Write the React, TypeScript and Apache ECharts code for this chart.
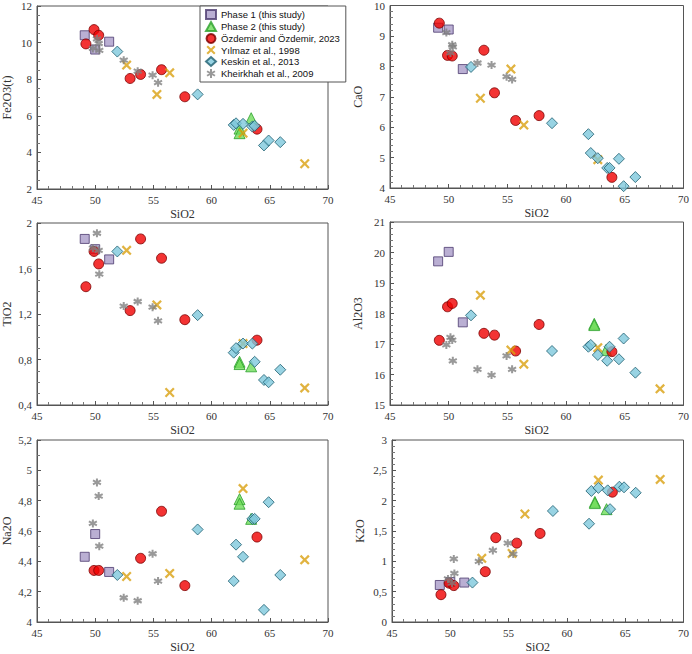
import React, { useEffect, useRef } from "react";
import * as echarts from "echarts";

// ---------- Data ----------
// Phase 1 (this study)
const PHASE1_SIO2 = [49.1, 50.0, 51.2];
const PHASE1_FE2O3 = [10.4, 9.62, 10.05];
const PHASE1_CAO = [9.27, 9.21, 7.91];
const PHASE1_TIO2 = [1.86, 1.77, 1.68];
const PHASE1_AL2O3 = [19.71, 20.02, 17.71];
const PHASE1_NA2O = [4.43, 4.58, 4.33];
const PHASE1_K2O = [0.61, 0.66, 0.65];

// Phase 2 (this study)
const PHASE2_SIO2 = [62.4, 62.4, 63.4];
const PHASE2_FE2O3 = [5.3, 5.05, 5.87];
const PHASE2_CAO = [null, null, null];
const PHASE2_TIO2 = [0.78, 0.76, 0.74];
const PHASE2_AL2O3 = [17.66, 17.62, 16.8];
const PHASE2_NA2O = [4.81, 4.78, 4.68];
const PHASE2_K2O = [1.98, 1.96, 1.86];

// Özdemir and Özdemir, 2023
const OZD_SIO2 = [49.2, 49.9, 50.3, 53.0, 53.9, 55.7, 57.7, 63.9];
const OZD_FE2O3 = [9.93, 10.71, 10.4, 8.04, 8.26, 8.52, 7.04, 5.27];
const OZD_CAO = [9.42, 8.36, 8.34, 8.53, 7.13, 6.22, 6.38, 4.35];
const OZD_TIO2 = [1.44, 1.75, 1.64, 1.23, 1.86, 1.69, 1.15, 0.97];
const OZD_AL2O3 = [17.12, 18.22, 18.33, 17.35, 17.29, 16.77, 17.64, 16.75];
const OZD_NA2O = [null, 4.34, 4.34, null, 4.42, 4.73, 4.24, 4.56];
const OZD_K2O = [0.45, 0.64, 0.6, 0.83, 1.39, 1.3, 1.46, 2.14];

// Yılmaz et al., 1998
const YIL_SIO2 = [52.7, 55.3, 56.4, 62.7, 68.0];
const YIL_FE2O3 = [8.77, 7.17, 8.35, 5.05, 3.38];
const YIL_CAO = [6.95, 7.91, 6.07, 4.93, null];
const YIL_TIO2 = [1.76, 1.28, 0.51, 0.94, 0.55];
const YIL_AL2O3 = [18.6, 16.8, 16.34, 16.88, 15.53];
const YIL_NA2O = [4.3, null, 4.32, 4.88, 4.41];
const YIL_K2O = [1.05, 1.13, 1.78, 2.34, 2.35];

// Keskin et al., 2013
const KES_SIO2 = [51.9, 58.8, 61.9, 62.1, 62.7, 63.5, 63.7, 64.5, 64.9, 65.9];
const KES_FE2O3 = [9.51, 7.17, 5.5, 5.59, 5.56, 5.41, 5.45, 4.38, 4.65, 4.56];
const KES_CAO = [7.98, 6.13, 5.77, 5.15, 4.98, 4.66, 4.66, 4.96, 4.06, 4.36];
const KES_TIO2 = [1.75, 1.19, 0.86, 0.9, 0.94, 0.94, 0.78, 0.62, 0.6, 0.71];
const KES_AL2O3 = [17.94, 16.77, 16.91, 16.97, 16.64, 16.45, 16.91, 16.5, 17.18, 16.06];
const KES_NA2O = [4.31, 4.61, 4.27, 4.51, 4.43, 4.68, 4.68, 4.08, 4.79, 4.31];
const KES_K2O = [0.65, 1.83, 1.62, 2.16, 2.21, 2.17, 1.86, 2.23, 2.22, 2.13];

// Kheirkhah et al., 2009
const KHE_SIO2 = [49.8, 50.15, 50.3, 50.35, 52.45, 53.65, 54.93, 55.4];
const KHE_FE2O3 = [9.68, 10.2, 9.95, 9.58, 9.04, 8.44, 8.22, 7.81];
const KHE_CAO = [9.11, 8.44, 8.71, 8.64, 8.11, 8.04, 7.66, 7.57];
const KHE_TIO2 = [1.78, 1.91, 1.76, 1.55, 1.27, 1.31, 1.26, 1.14];
const KHE_AL2O3 = [16.97, 17.22, 17.13, 16.45, 16.17, 15.98, 16.61, 16.17];
const KHE_NA2O = [4.65, 4.92, 4.83, 4.5, 4.16, 4.14, 4.45, 4.27];
const KHE_K2O = [0.71, 0.64, 1.04, 0.8, 1.0, 1.18, 1.3, 1.12];

// Panels: y-axis names and tick ranges
const PANEL_NAMES = ["Fe2O3(t)", "CaO", "TiO2", "Al2O3", "Na2O", "K2O"];
const Y_MIN = [2, 4, 0.4, 15, 4, 0];
const Y_MAX = [12, 10, 2, 21, 5.2, 3];
const Y_INTERVAL = [2, 1, 0.4, 1, 0.2, 0.5];
const Y_MINOR = [4, 5, 4, 5, 2, 5];
const X_MIN = 45;
const X_MAX = 70;
const X_INTERVAL = 5;

// ---------- Styles ----------
const GRIDS = [
  { left: 33, top: 6, width: 295, height: 183 },
  { left: 390, top: 5, width: 296, height: 183 },
  { left: 33, top: 223, width: 295, height: 182 },
  { left: 390, top: 222, width: 295, height: 183 },
  { left: 33, top: 440, width: 295, height: 183 },
  { left: 392, top: 440, width: 293, height: 182 },
];

const X_PATH =
  "path://M1.6,0 L5,3.4 L8.4,0 L10,1.6 L6.6,5 L10,8.4 L8.4,10 L5,6.6 L1.6,10 L0,8.4 L3.4,5 L0,1.6 Z";
const AST_PATH =
  "path://M5,0 L5,10 M0.6,2.5 L9.4,7.5 M0.6,7.5 L9.4,2.5";

const DATASETS = [
  {
    name: "Phase 1 (this study)",
    x: PHASE1_SIO2,
    y: [PHASE1_FE2O3, PHASE1_CAO, PHASE1_TIO2, PHASE1_AL2O3, PHASE1_NA2O, PHASE1_K2O],
    symbol: "rect",
    size: 9,
    itemStyle: { color: "#a99bc8", borderColor: "#4b3a6e", borderWidth: 1 },
  },
  {
    name: "Phase 2 (this study)",
    x: PHASE2_SIO2,
    y: [PHASE2_FE2O3, PHASE2_CAO, PHASE2_TIO2, PHASE2_AL2O3, PHASE2_NA2O, PHASE2_K2O],
    symbol: "triangle",
    size: 11,
    itemStyle: { color: "#6fdc5a", borderColor: "#2aa02a", borderWidth: 1 },
  },
  {
    name: "Özdemir and Özdemir, 2023",
    x: OZD_SIO2,
    y: [OZD_FE2O3, OZD_CAO, OZD_TIO2, OZD_AL2O3, OZD_NA2O, OZD_K2O],
    symbol: "circle",
    size: 10,
    itemStyle: { color: "#f00000", borderColor: "#7a0000", borderWidth: 1 },
  },
  {
    name: "Yılmaz et al., 1998",
    x: YIL_SIO2,
    y: [YIL_FE2O3, YIL_CAO, YIL_TIO2, YIL_AL2O3, YIL_NA2O, YIL_K2O],
    symbol: X_PATH,
    size: 10,
    itemStyle: { color: "#daa010" },
  },
  {
    name: "Keskin et al., 2013",
    x: KES_SIO2,
    y: [KES_FE2O3, KES_CAO, KES_TIO2, KES_AL2O3, KES_NA2O, KES_K2O],
    symbol: "diamond",
    size: 11,
    itemStyle: { color: "#7ec8dc", borderColor: "#1f5f70", borderWidth: 1 },
  },
  {
    name: "Kheirkhah et al., 2009",
    x: KHE_SIO2,
    y: [KHE_FE2O3, KHE_CAO, KHE_TIO2, KHE_AL2O3, KHE_NA2O, KHE_K2O],
    symbol: AST_PATH,
    size: 8,
    itemStyle: { color: "rgba(0,0,0,0)", borderColor: "#808080", borderWidth: 2 },
  },
];

const SERIF = "'Liberation Serif', 'Times New Roman', serif";
const SANS = "'Liberation Sans', Arial, sans-serif";

function fmt(v: number) {
  return String(+Number(v).toFixed(2)).replace(".", ",");
}

function buildOption() {
  const xAxis: any[] = [];
  const yAxis: any[] = [];
  const series: any[] = [];
  GRIDS.forEach((_, i) => {
    const isRight = i % 2 === 1;
    xAxis.push({
      gridIndex: i,
      type: "value",
      min: X_MIN,
      max: X_MAX,
      interval: X_INTERVAL,
      name: "SiO2",
      nameLocation: "middle",
      nameGap: 19,
      nameTextStyle: { fontFamily: SERIF, fontSize: 12, color: "#333" },
      axisLine: { show: true, lineStyle: { color: "#555", width: 1 } },
      axisTick: { show: true, inside: true, length: 4, lineStyle: { color: "#555" } },
      minorTick: { show: true, splitNumber: 5, length: 3, lineStyle: { color: "#777" } },
      splitLine: { show: false },
      axisLabel: { fontFamily: SERIF, fontSize: 11, color: "#333", margin: 5 },
    });
    yAxis.push({
      gridIndex: i,
      type: "value",
      min: Y_MIN[i],
      max: Y_MAX[i],
      interval: Y_INTERVAL[i],
      name: PANEL_NAMES[i],
      nameLocation: "middle",
      nameGap: isRight ? 26 : 24,
      nameTextStyle: { fontFamily: SERIF, fontSize: 12, color: "#333" },
      axisLine: { show: true, lineStyle: { color: "#555", width: 1 } },
      axisTick: { show: true, inside: true, length: 4, lineStyle: { color: "#555" } },
      minorTick: { show: true, splitNumber: Y_MINOR[i], length: 3, lineStyle: { color: "#777" } },
      splitLine: { show: false },
      axisLabel: {
        fontFamily: SERIF,
        fontSize: 11,
        color: "#333",
        margin: 5,
        formatter: (v: number) => fmt(v),
      },
    });
    DATASETS.forEach((ds) => {
      const ys = ds.y[i];
      const data = ds.x
        .map((xv, k) => [xv, ys[k]])
        .filter((p) => p[1] !== null && p[1] !== undefined);
      series.push({
        type: "scatter",
        name: ds.name,
        xAxisIndex: i,
        yAxisIndex: i,
        symbol: ds.symbol,
        symbolSize: ds.size,
        itemStyle: ds.itemStyle,
        data,
        emphasis: { disabled: true },
      });
    });
  });

  return {
    animation: false,
    backgroundColor: "#ffffff",
    grid: GRIDS.map((g) => ({
      ...g,
      show: true,
      borderColor: "#555",
      borderWidth: 1,
      backgroundColor: "transparent",
    })),
    xAxis,
    yAxis,
    legend: {
      data: DATASETS.map((d) => d.name),
      orient: "vertical",
      left: 200,
      top: 6,
      padding: [3, 6, 3, 5],
      itemGap: 1,
      itemWidth: 10,
      itemHeight: 9,
      backgroundColor: "#fff",
      borderColor: "#555",
      borderWidth: 1,
      borderRadius: 0,
      textStyle: { fontFamily: SANS, fontSize: 9.5, color: "#111" },
      selectedMode: false,
    },
    series,
  };
}

export default function App() {
  const ref = useRef<HTMLDivElement>(null);
  useEffect(() => {
    if (!ref.current) return;
    const chart = echarts.init(ref.current, undefined, { renderer: "svg" });
    chart.setOption(buildOption() as any);
    return () => chart.dispose();
  }, []);
  return (
    <div
      ref={ref}
      style={{ position: "absolute", left: 0, top: 0, width: 692, height: 654, background: "#fff" }}
    />
  );
}
